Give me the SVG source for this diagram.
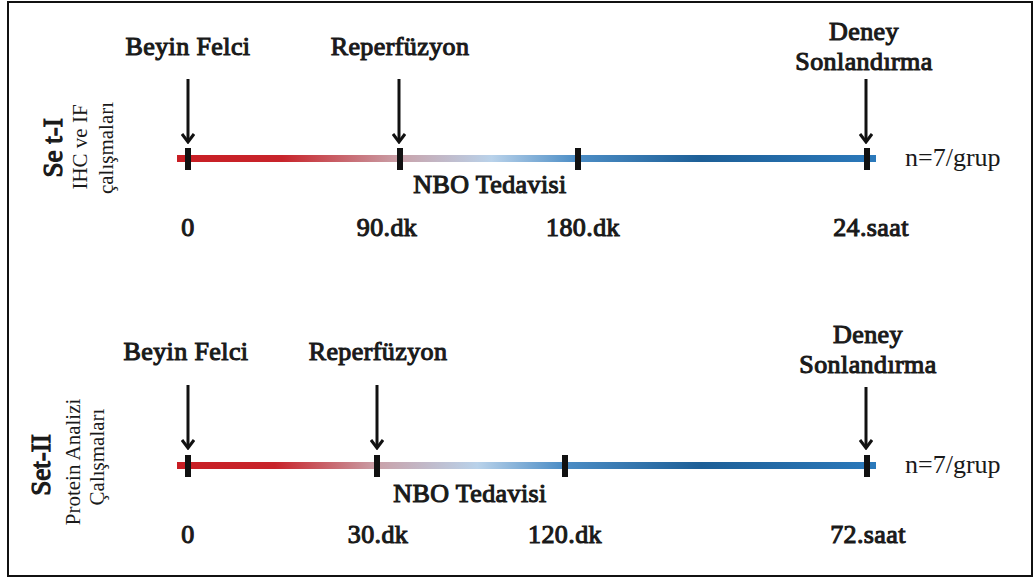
<svg xmlns="http://www.w3.org/2000/svg" width="1035" height="581" viewBox="0 0 1035 581">
<defs>
<style>
text{font-family:"Liberation Serif","Times New Roman",serif;fill:#1a1a1a}
.lbl{font-size:26px;letter-spacing:0.4px;text-anchor:middle;stroke:#1a1a1a;stroke-width:1.1px}
.n{font-size:26px}
.side{font-size:21px;text-anchor:middle}
.sideb{font-size:27px;text-anchor:middle;stroke:#1a1a1a;stroke-width:1.2px}
.tick{fill:#111}
.arr{stroke:#111;stroke-width:3;fill:none}
</style>
<linearGradient id="g1" gradientUnits="userSpaceOnUse" x1="177" y1="0" x2="876" y2="0">
<stop offset="0" stop-color="#c81e24"/>
<stop offset="0.15" stop-color="#c8242b"/>
<stop offset="0.32" stop-color="#c9a3ab"/>
<stop offset="0.45" stop-color="#b9d2ea"/>
<stop offset="0.57" stop-color="#4d8ec6"/>
<stop offset="0.75" stop-color="#1d5f97"/>
<stop offset="1" stop-color="#2b79bb"/>
</linearGradient>
<linearGradient id="g2" gradientUnits="userSpaceOnUse" x1="177" y1="0" x2="876" y2="0">
<stop offset="0" stop-color="#c81e24"/>
<stop offset="0.14" stop-color="#c8242b"/>
<stop offset="0.29" stop-color="#c9a3ab"/>
<stop offset="0.43" stop-color="#b9d2ea"/>
<stop offset="0.55" stop-color="#4d8ec6"/>
<stop offset="0.75" stop-color="#1d5f97"/>
<stop offset="1" stop-color="#2b79bb"/>
</linearGradient>
<marker id="ah" viewBox="0 0 14 14" refX="12" refY="7" markerWidth="14" markerHeight="14" markerUnits="userSpaceOnUse" orient="auto">
<path d="M4 1 L12 7 L4 13" stroke="#111" stroke-width="3" fill="none"/>
</marker>
</defs>
<rect x="8" y="2" width="1024" height="574" fill="#fff" stroke="#111" stroke-width="2"/>
<g id="set1">
<g id="set1-label">
<text class="sideb" transform="translate(62,148) rotate(-90)">Se t-I</text>
<text class="side" transform="translate(87,147) rotate(-90)">IHC ve IF</text>
<text class="side" transform="translate(113,148) rotate(-90)">çalışmaları</text>
</g>
<rect id="set1-bar" x="177" y="155" width="699" height="7" fill="url(#g1)"/>
<g id="set1-t0"><text class="lbl" x="188" y="55">Beyin Felci</text><rect class="tick" x="185" y="148" width="6" height="22"/><text class="lbl" x="188" y="236">0</text></g>
<g id="set1-t1"><text class="lbl" x="400" y="55">Reperfüzyon</text><rect class="tick" x="397" y="148" width="6" height="22"/><text class="lbl" x="387" y="236">90.dk</text></g>
<g id="set1-t2"><rect class="tick" x="575" y="148" width="6" height="22"/><text class="lbl" x="583" y="236">180.dk</text></g>
<g id="set1-t3"><text class="lbl" x="864" y="40">Deney</text><text class="lbl" x="864" y="70">Sonlandırma</text><rect class="tick" x="864" y="148" width="6" height="22"/><text class="lbl" x="871" y="236">24.saat</text></g>
<text id="set1-nbo" class="lbl" x="490" y="193">NBO Tedavisi</text>
<text id="set1-n" class="n" x="905" y="166">n=7/grup</text>
</g>
<g id="set2">
<g id="set2-label">
<text class="sideb" transform="translate(50,465) rotate(-90)">Set-II</text>
<text class="side" transform="translate(80,462) rotate(-90)">Protein Analizi</text>
<text class="side" transform="translate(104,457) rotate(-90)">Çalışmaları</text>
</g>
<rect id="set2-bar" x="177" y="462" width="699" height="7" fill="url(#g2)"/>
<g id="set2-t0"><text class="lbl" x="186" y="360">Beyin Felci</text><rect class="tick" x="185" y="455" width="6" height="22"/><text class="lbl" x="188" y="543">0</text></g>
<g id="set2-t1"><text class="lbl" x="378" y="360">Reperfüzyon</text><rect class="tick" x="374" y="455" width="6" height="22"/><text class="lbl" x="378" y="543">30.dk</text></g>
<g id="set2-t2"><rect class="tick" x="562" y="455" width="6" height="22"/><text class="lbl" x="565" y="543">120.dk</text></g>
<g id="set2-t3"><text class="lbl" x="868" y="343">Deney</text><text class="lbl" x="868" y="373">Sonlandırma</text><rect class="tick" x="864" y="455" width="6" height="22"/><text class="lbl" x="868" y="543">72.saat</text></g>
<text id="set2-nbo" class="lbl" x="470" y="502">NBO Tedavisi</text>
<text id="set2-n" class="n" x="905" y="473">n=7/grup</text>
</g>
<g id="connectors">
<line class="arr" x1="188" y1="79" x2="188" y2="142" marker-end="url(#ah)"/>
<line class="arr" x1="399" y1="79" x2="399" y2="142" marker-end="url(#ah)"/>
<line class="arr" x1="866" y1="79" x2="866" y2="142" marker-end="url(#ah)"/>
<line class="arr" x1="188" y1="385" x2="188" y2="448" marker-end="url(#ah)"/>
<line class="arr" x1="377" y1="385" x2="377" y2="448" marker-end="url(#ah)"/>
<line class="arr" x1="866" y1="387" x2="866" y2="448" marker-end="url(#ah)"/>
</g>
</svg>
